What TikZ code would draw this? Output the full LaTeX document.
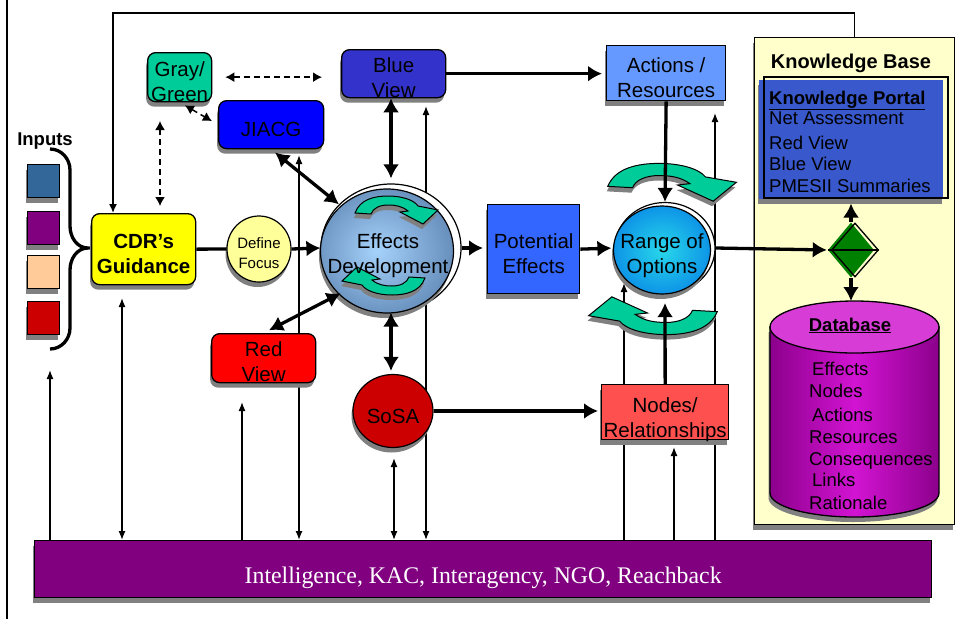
\documentclass[tikz,border=0pt]{standalone}
\usepackage{fontspec}
\setmainfont{Liberation Sans}
\newfontfamily\barserif{Liberation Serif}
\usepackage{xcolor}
\usetikzlibrary{shapes.geometric,arrows.meta,shadows,calc}
\definecolor{cdryellow}{RGB}{255,255,0}
\definecolor{focusyellow}{RGB}{255,255,153}
\definecolor{graygreen}{RGB}{0,204,153}
\definecolor{jiacgblue}{RGB}{0,0,255}
\definecolor{blueview}{RGB}{51,51,204}
\definecolor{redview}{RGB}{255,0,0}
\definecolor{sosared}{RGB}{204,0,0}
\definecolor{actionsblue}{RGB}{102,153,255}
\definecolor{potentialblue}{RGB}{51,102,255}
\definecolor{nodesred}{RGB}{255,80,80}
\definecolor{kbyellow}{RGB}{255,255,204}
\definecolor{portalblue}{RGB}{56,88,204}
\definecolor{dbdark}{RGB}{140,0,140}
\definecolor{dbmid}{RGB}{210,20,210}
\definecolor{dbtop}{RGB}{215,60,215}
\definecolor{barpurple}{RGB}{128,0,128}
\definecolor{decidegreen}{RGB}{0,128,0}
\definecolor{inputsteel}{RGB}{51,102,153}
\definecolor{inputpurple}{RGB}{128,0,128}
\definecolor{inputpeach}{RGB}{255,204,153}
\definecolor{inputred}{RGB}{204,0,0}
\definecolor{shadowgray}{RGB}{128,128,128}
\definecolor{turngreen}{RGB}{0,204,153}
\definecolor{effhi}{RGB}{165,210,250}
\definecolor{effmid}{RGB}{110,150,195}
\definecolor{efflo}{RGB}{60,85,120}
\definecolor{rnghi}{RGB}{40,215,235}
\definecolor{rngmid}{RGB}{10,140,230}
\definecolor{rnglo}{RGB}{0,70,180}
\newcommand{\labelfont}{\fontsize{20.5}{25}\selectfont}
\newcommand{\focusfont}{\fontsize{15}{20}\selectfont}
\newcommand{\listfont}{\fontsize{18.5}{22}\selectfont}
\newcommand{\titlefont}{\fontsize{20}{24}\selectfont}
\newcommand{\barfont}{\barserif\fontsize{23.8}{28}\selectfont}
\newcommand{\tightline}[1]{\makebox[0pt]{#1}}
\pgfdeclareradialshading{effectsball}{\pgfpoint{-4bp}{0bp}}{color(0bp)=(effhi); color(24bp)=(effmid); color(50bp)=(efflo)}
\pgfdeclareradialshading{rangeball}{\pgfpoint{0bp}{0bp}}{color(0bp)=(rnghi); color(28bp)=(rngmid); color(50bp)=(rnglo)}
\newcommand{\turnshape}[1]{
  \path[#1] (-35,1) .. controls (-30,-13) and (-15,-16) .. (-2,-16)
    .. controls (12,-16) and (24,-12) .. (28,-6) -- (48,-2) -- (33,12)
    -- (10,0) -- (18,-1) .. controls (12,-6) and (5,-7) .. (-2,-7)
    .. controls (-10,-7) and (-17,-4) .. (-19,2) -- cycle;
}
\newcommand{\turnarrow}[4]{
  \begin{scope}[shift={(#1-1,#2+5)},xscale=#3,yscale=#4]
    \turnshape{fill=shadowgray}
  \end{scope}
  \begin{scope}[shift={(#1,#2)},xscale=#3,yscale=#4]
    \turnshape{fill=turngreen,draw=black,line width=1pt}
  \end{scope}
}
\tikzset{x=1pt}
\tikzset{y=-1pt}
\tikzstyle{shadowed}=[drop shadow={shadow xshift=-1.5pt,shadow yshift=-5pt,fill=shadowgray,opacity=1}]
\tikzstyle{box}=[draw=black,line width=1.3pt,rounded corners=8pt,inner sep=0pt,align=center,font=\labelfont,anchor=north west,shadowed]
\tikzstyle{flatbox}=[box,sharp corners]
\tikzstyle{ball}=[ellipse,draw=black,line width=1.2pt,inner sep=0pt,align=center,font=\labelfont,shadowed]
\tikzstyle{ring}=[ellipse,draw=black,line width=1.2pt,fill=white,inner sep=0pt]
\tikzstyle{inputbox}=[draw=black,line width=1.3pt,anchor=north west,minimum width=32pt,minimum height=33pt,inner sep=0pt,shadowed]
\tikzstyle{listtext}=[anchor=base west,inner sep=0pt,font=\listfont]
\tikzstyle{bigarrow}=[line width=3.3pt,-{Latex[length=14pt,width=16pt]}]
\tikzstyle{bigboth}=[line width=3.3pt,{Latex[length=14pt,width=16pt]}-{Latex[length=14pt,width=16pt]}]
\tikzstyle{feed}=[line width=1.3pt,-{Latex[length=9pt,width=7pt]}]
\tikzstyle{feedboth}=[line width=1.3pt,{Latex[length=9pt,width=7pt]}-{Latex[length=9pt,width=7pt]}]
\tikzstyle{dashlink}=[line width=1.5pt,dash pattern=on 6pt off 4pt,{Latex[length=9pt,width=10pt]}-{Latex[length=9pt,width=10pt]}]
\begin{document}
\begin{tikzpicture}
  \useasboundingbox (0,0) rectangle (955,619);
  %% slide edge
  \draw[line width=1.5pt] (7,0) -- (7,619);

  %% Common bus
  \draw (34,540) node[anchor=north west,minimum width=897pt,inner sep=0pt,text height=43pt,text depth=14pt,fill=barpurple,draw=black,line width=1.3pt,text=white,font=\barfont,shadowed] (bar) {Intelligence, KAC, Interagency, NGO, Reachback};

  %% Feeds to and from the bus
  \coordinate (feedA) at (50,370);
  \coordinate (feedB) at (122,298);
  \coordinate (feedC) at (242,402);
  \coordinate (feedD) at (299,155);
  \coordinate (feedE) at (394,458);
  \coordinate (feedF) at (426,106);
  \coordinate (feedG) at (624,283);
  \coordinate (feedH) at (674,447);
  \coordinate (feedI) at (715,113);
  \draw[feed] (feedA |- bar.north) -- (feedA);
  \draw[feedboth] (feedB) -- (feedB |- bar.north);
  \draw[feed] (feedC |- bar.north) -- (feedC);
  \draw[feedboth] (feedD) -- (feedD |- bar.north);
  \draw[feedboth] (feedE) -- (feedE |- bar.north);
  \draw[feedboth] (feedF) -- (feedF |- bar.north);
  \draw[feed] (feedG |- bar.north) -- (feedG);
  \draw[feed] (feedH |- bar.north) -- (feedH);
  \draw[feed] (feedI |- bar.north) -- (feedI);

  %% Knowledge base
  \draw (754,37) node[anchor=north west,minimum width=200pt,minimum height=487pt,inner sep=0pt,fill=kbyellow,draw=black,line width=1.3pt,shadowed] (kbase) {};
  \draw (851,68) node[anchor=base,inner sep=0pt,font=\titlefont\bfseries] (kbtitle) {Knowledge Base};
  \fill[portalblue,shadowed] (759,80) rectangle (943,199);
  \draw (763,76) node[anchor=north west,minimum width=184pt,minimum height=121pt,inner sep=0pt,draw=black,line width=1.5pt] (portal) {};
  \draw (769,104) node[listtext,font=\listfont\bfseries] (kp0) {\underline{Knowledge Portal}};
  \draw (769,124) node[listtext] (kp1) {Net Assessment};
  \draw (769,149) node[listtext] (kp2) {Red View};
  \draw (769,170) node[listtext] (kp3) {Blue View};
  \draw (769,192) node[listtext] (kp4) {PMESII Summaries};

  \path[draw=black,line width=1.3pt,left color=dbdark,right color=dbdark,middle color=dbmid,shadowed] (770,327) -- (770,493) arc[start angle=180,end angle=0,x radius=84.5,y radius=24] -- (939,327) -- cycle;
  \filldraw[fill=dbtop,draw=black,line width=1.3pt] (854.5,327) ellipse[x radius=84.5,y radius=26];
  \coordinate (dbtop) at (854.5,301);
  \draw (850,331) node[anchor=base,inner sep=0pt,font=\listfont\bfseries] (dbtitle) {\underline{Database}};
  \draw (812,375) node[listtext] (db1) {Effects};
  \draw (809,397) node[listtext] (db2) {Nodes};
  \draw (812,421) node[listtext] (db3) {Actions};
  \draw (809,443) node[listtext] (db4) {Resources};
  \draw (809,465) node[listtext] (db5) {Consequences};
  \draw (812,486) node[listtext] (db6) {Links};
  \draw (809,509) node[listtext] (db7) {Rationale};

  \draw (851,250) node[diamond,fill=decidegreen,minimum width=46pt,minimum height=55pt,inner sep=0pt] (decide) {};
  \draw (855,250) node[diamond,draw=black,line width=1.3pt,minimum width=47pt,minimum height=54pt,inner sep=0pt] (decideedge) {};
  \draw[line width=1.3pt] (decide.west) -- (decideedge.east);

  %% Inputs
  \draw (45,145) node[anchor=base,inner sep=0pt,font=\listfont\bfseries] (inputs) {Inputs};
  \draw (27,164) node[inputbox,fill=inputsteel] (input1) {};
  \draw (27,211) node[inputbox,fill=inputpurple] (input2) {};
  \draw (27,255) node[inputbox,fill=inputpeach] (input3) {};
  \draw (27,301) node[inputbox,fill=inputred] (input4) {};
  \draw[line width=3.3pt] (50,149) to[out=0,in=90] (70,170) -- (70,226) to[out=-90,in=180] (88,248)
    to[out=180,in=90] (70,270) -- (70,328) to[out=-90,in=0] (50,349);

  %% Boxes
  \draw (91,213) node[box,fill=cdryellow,minimum width=104pt,text height=60pt,text depth=11pt,font=\labelfont\bfseries] (cdr) {CDR’s\\Guidance};
  \draw (147,52) node[box,fill=graygreen,minimum width=64pt,text height=49pt,text depth=0pt] (graygreen) {Gray/\\Green};
  \draw (218,100) node[box,fill=jiacgblue,minimum width=105pt,text height=36pt,text depth=12pt] (jiacg) {JIACG};
  \draw (341,49) node[box,fill=blueview,minimum width=104pt,text height=48pt,text depth=0pt] (blueview) {Blue\\View};
  \draw (211,333) node[box,fill=redview,minimum width=104pt,text height=48pt,text depth=1pt] (redview) {Red\\View};
  \draw (606,45) node[flatbox,fill=actionsblue,minimum width=119pt,text height=52pt,text depth=3pt] (actions) {Actions /\\Resources};
  \draw (487,204) node[flatbox,fill=potentialblue,minimum width=92pt,text height=69pt,text depth=20pt] (potential) {Potential\\Effects};
  \draw (601,384) node[flatbox,fill=nodesred,minimum width=127pt,text height=53pt,text depth=2pt] (nodesrel) {Nodes/\\Relationships};

  %% Circles
  \draw (259,249) node[ball,fill=focusyellow,minimum width=64pt,minimum height=66pt,text height=38pt,text depth=0pt,font=\focusfont] (focus) {\tightline{Define}\\\tightline{Focus}};
  \draw (391,248) node[ring,minimum width=140pt,minimum height=128pt] (effects) {};
  \draw (387,251) node[ball,shading=effectsball,minimum width=133pt,minimum height=124pt] (effball) {};
  \draw (393,411) node[ball,fill=sosared,minimum width=80pt,minimum height=73pt,text height=24pt,text depth=0pt] (sosa) {\tightline{SoSA}};
  \draw (665,248) node[ring,minimum width=100pt,minimum height=91pt] (range) {};
  \draw (662,250) node[ball,shading=rangeball,minimum width=97pt,minimum height=88pt,text height=46pt,text depth=0pt] (rangeball) {\tightline{Range of}\\\tightline{Options}};

  %% Turning arrows
  \turnarrow{390}{212}{1}{1}
  \turnarrow{390}{279}{-1}{-1}
  \turnarrow{662}{185}{1.55}{1.35}
  \turnarrow{663}{313}{-1.55}{-1.35}
  \draw (388,273) node[anchor=base,inner sep=0pt,align=center,font=\labelfont] (efftext) {Effects\\Development};

  %% Main flow
  \draw[line width=3.3pt] (cdr.east) -- (focus.west);
  \draw[bigarrow] (focus.east) -- (effects.west);
  \draw[bigboth,shorten <=5pt] (jiacg.south) -- (effects.140);
  \draw[bigboth,shorten <=6pt] (redview.north) -- (effects.222);
  \draw[bigboth,shorten <=5pt] (effects.north) -- (effects.north |- blueview.south);
  \draw[bigboth,shorten >=3pt] (effects.south) -- (effects.south |- sosa.north);
  \draw[bigarrow,shorten >=4pt] (effects.east) -- (effects.east -| potential.west);
  \draw[bigarrow,shorten >=3pt] (potential.east) -- (range.west);
  \draw[bigarrow,shorten >=4pt] (blueview.east) -- (blueview.east -| actions.west);
  \draw[bigarrow] (actions.south) -- (range.north);
  \draw[bigarrow,shorten >=9pt] (nodesrel.north) -- (range.south);
  \draw[bigarrow,shorten >=3pt] (sosa.east) -- (sosa.east -| nodesrel.west);
  \draw[bigarrow,shorten >=1pt] (range.east) -- (decide.west);
  \draw[bigarrow,shorten >=5pt] (decide.north) -- (decide.north |- portal.south);
  \draw[bigarrow] (decide.south) -- (decide.south |- dbtop);

  %% Side links
  \draw[dashlink,shorten <=13pt,shorten >=19pt] (graygreen.east) -- (graygreen.east -| blueview.west);
  \draw[dashlink,shorten <=6pt,shorten >=7pt] (graygreen.south) -- (jiacg.west);
  \coordinate (ggdrop) at (160,121);
  \draw[dashlink,shorten >=7pt] (ggdrop) -- (ggdrop |- cdr.north);
  \coordinate (loopcorner) at (113,13);
  \draw[line width=1.5pt,-{Latex[length=9pt,width=8pt]}] (kbase.north) |- (loopcorner) -- (loopcorner |- cdr.north);
\end{tikzpicture}
\end{document}
